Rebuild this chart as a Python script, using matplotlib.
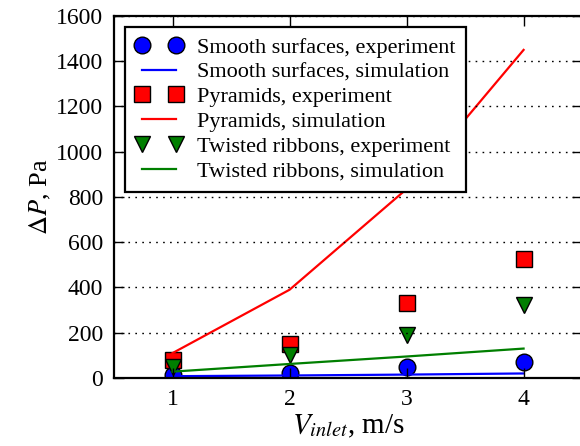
import numpy as np
import matplotlib
matplotlib.use('Agg')
import matplotlib.pyplot as plt

plt.rcParams['font.family'] = 'serif'
plt.rcParams['font.serif'] = ['Liberation Serif', 'DejaVu Serif']
plt.rcParams['mathtext.fontset'] = 'stix'

# Inlet velocity, m/s
v_inlet = [1, 2, 3, 4]

# Pressure drop, Pa
smooth_exp = [12, 22, 50, 70]
smooth_sim = [8, 11, 15, 20]
pyramids_exp = [80, 150, 333, 525]
pyramids_sim = [110, 390, 835, 1450]
ribbons_exp = [50, 100, 190, 323]
ribbons_sim = [28, 62, 95, 130]

y_ticks = [0, 200, 400, 600, 800, 1000, 1200, 1400, 1600]

fig = plt.figure(figsize=(5.8, 4.46), dpi=100)
ax = fig.add_axes([0.1966, 0.1525, 0.807, 0.8117])

ax.plot(v_inlet, smooth_exp, 'o', color='#0000ff', mec='k', ms=12, ls='none',
        label='Smooth surfaces, experiment')
ax.plot(v_inlet, smooth_sim, '-', color='#0000ff', lw=1.6,
        label='Smooth surfaces, simulation')
ax.plot(v_inlet, pyramids_exp, 's', color='#ff0000', mec='k', ms=12, ls='none',
        label='Pyramids, experiment')
ax.plot(v_inlet, pyramids_sim, '-', color='#ff0000', lw=1.6,
        label='Pyramids, simulation')
ax.plot(v_inlet, ribbons_exp, 'v', color='#007f00', mec='k', ms=12, ls='none',
        label='Twisted ribbons, experiment')
ax.plot(v_inlet, ribbons_sim, '-', color='#007f00', lw=1.6,
        label='Twisted ribbons, simulation')

ax.set_xlim(0.5, 4.5)
ax.set_ylim(0, 1600)
ax.set_xticks(v_inlet)
ax.set_yticks(y_ticks)
ax.yaxis.grid(True, linestyle=(0, (1.2, 3.8)), color='k', lw=1)
ax.set_axisbelow(False)

ax.tick_params(direction='in', length=7, width=1, labelsize=17,
               top=True, right=True, pad=8)
for s in ax.spines.values():
    s.set_linewidth(1.6)

ax.set_xlabel(r'$V_{inlet}$, m/s', fontsize=21, labelpad=2)
ax.set_ylabel(r'$\Delta P$, Pa', fontsize=19, labelpad=2)

leg = ax.legend(loc='upper left', numpoints=2, fontsize=16, fancybox=False,
                framealpha=1, borderaxespad=0.5, handlelength=2.13,
                labelspacing=0.19, borderpad=0.45, handletextpad=0.66)
leg.get_frame().set_edgecolor('k')
leg.get_frame().set_linewidth(1.6)

fig.savefig('out.png', dpi=100)
